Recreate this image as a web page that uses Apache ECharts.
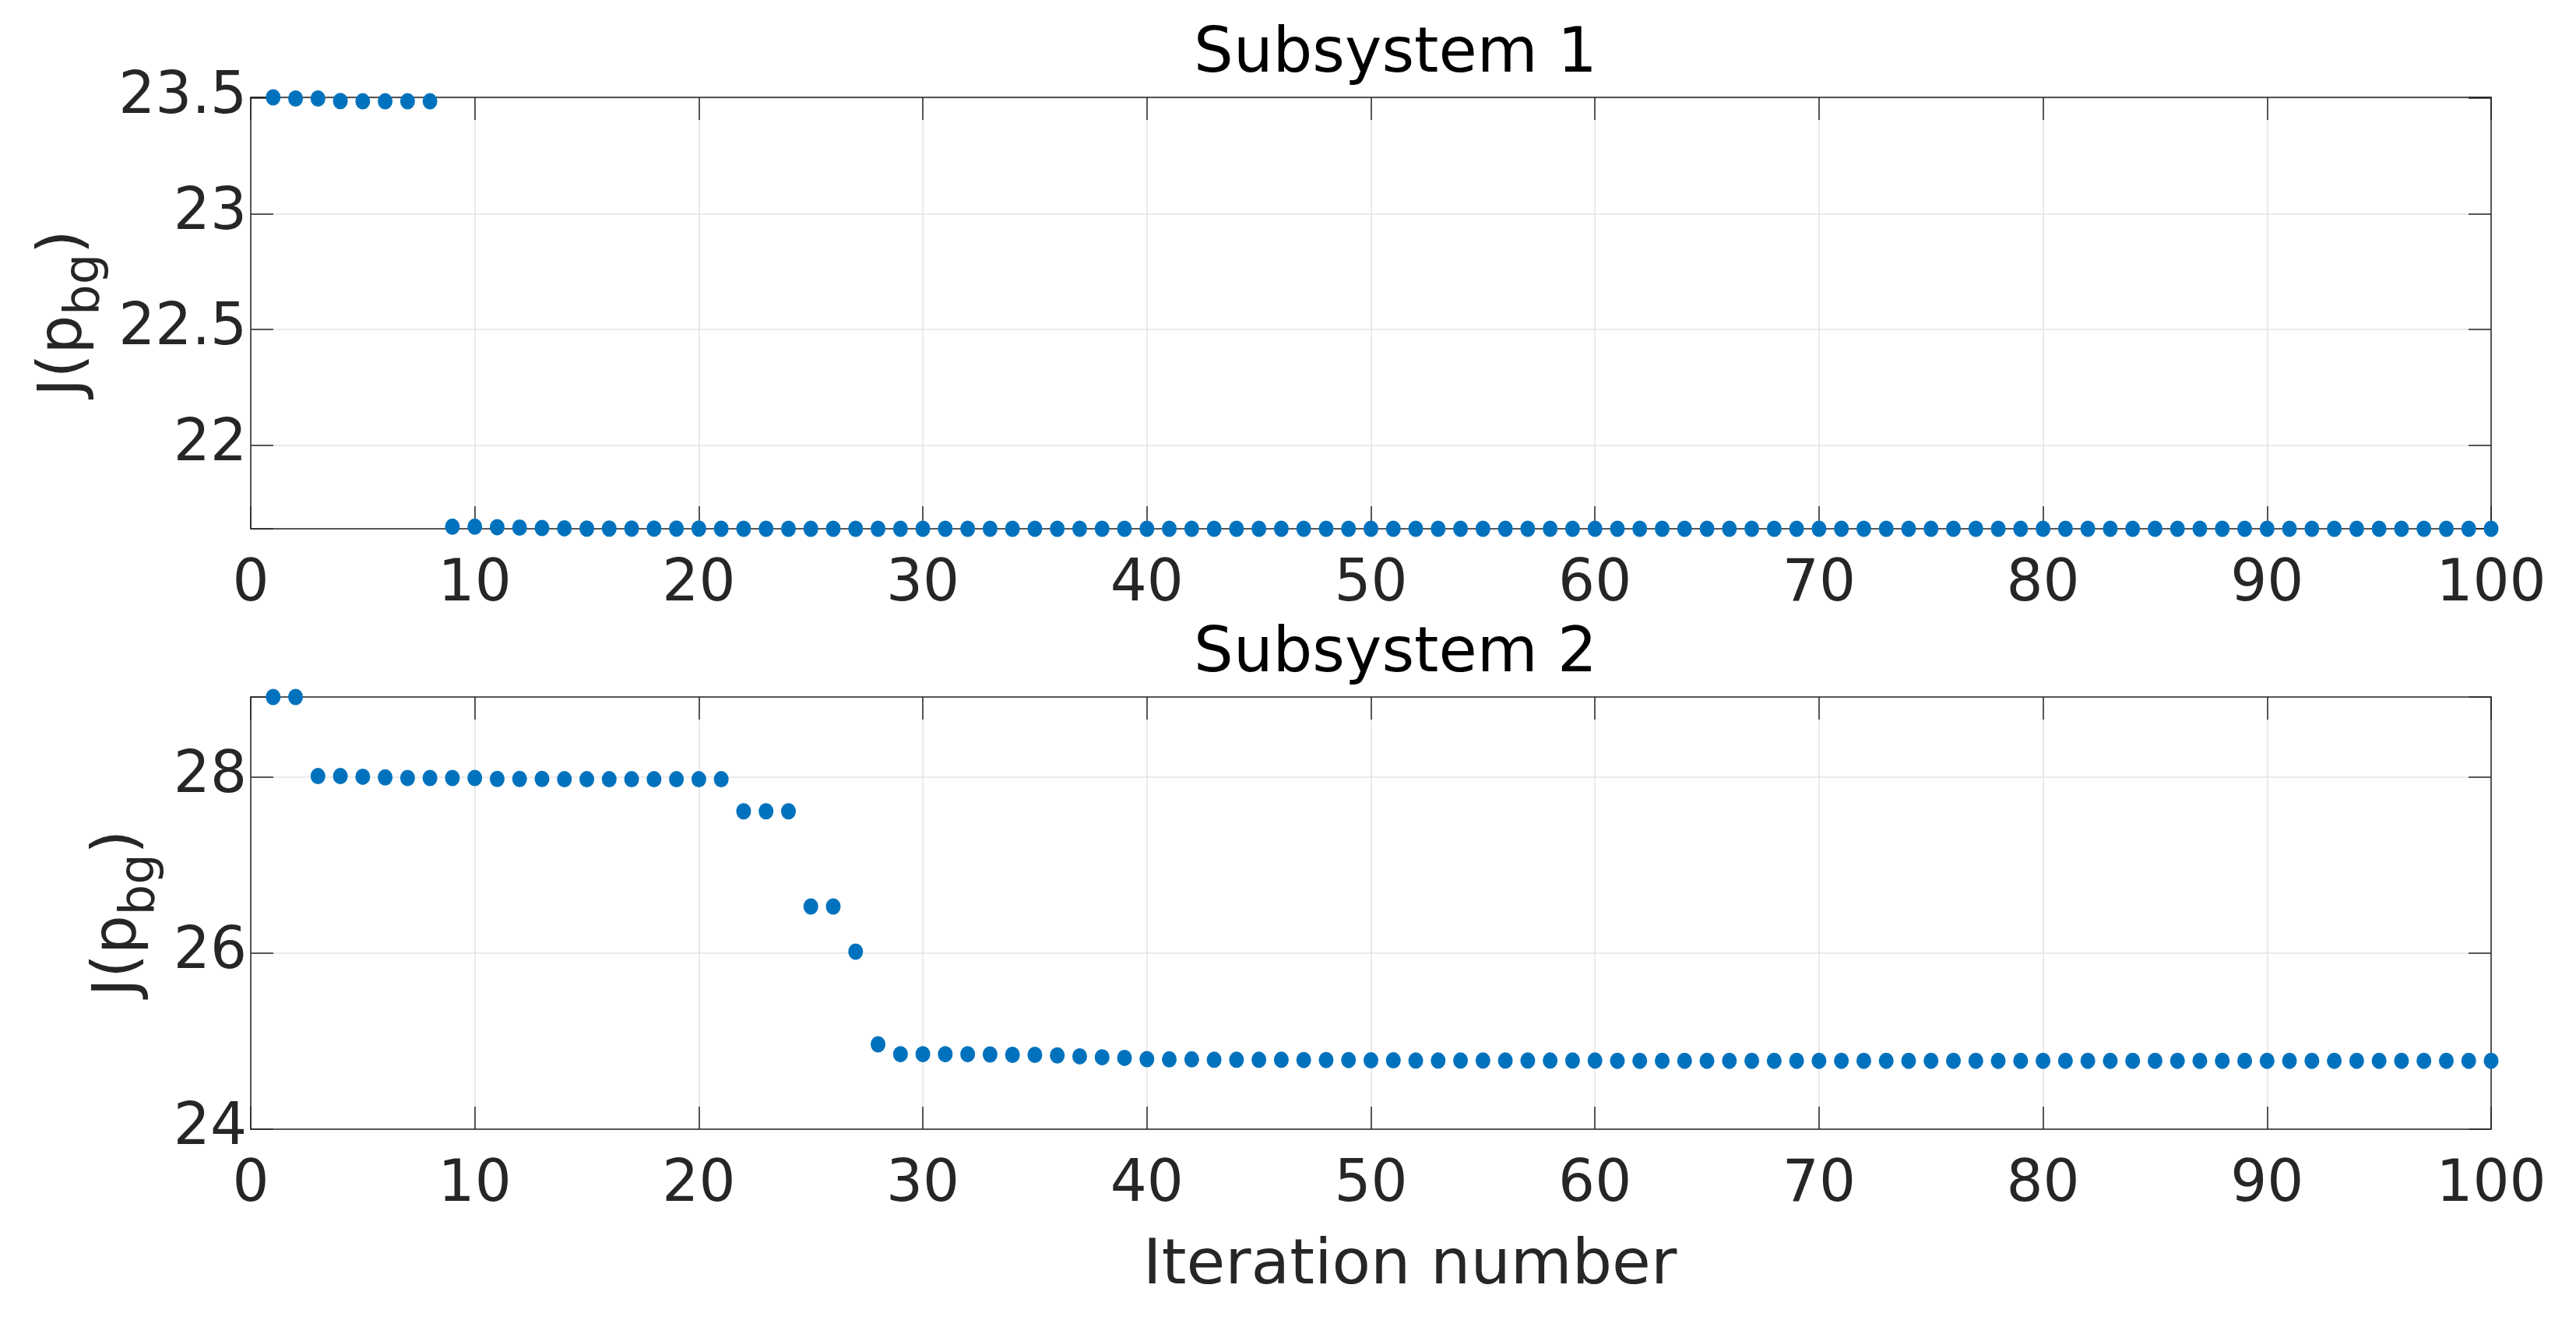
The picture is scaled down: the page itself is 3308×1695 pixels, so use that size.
<!DOCTYPE html>
<html>
<head>
<meta charset="utf-8">
<script src="https://cdn.jsdelivr.net/npm/echarts@6/dist/echarts.min.js"></script>
<style>
html,body{margin:0;padding:0;background:#fff;}
#main{width:3308px;height:1695px;}
</style>
</head>
<body>
<div id="main"></div>
<script>
// ---- data ----
var titles = ['Subsystem 1', 'Subsystem 2'];
var xLabel = 'Iteration number';
var xTicks = [0, 10, 20, 30, 40, 50, 60, 70, 80, 90, 100];
var yTicks1 = [22, 22.5, 23, 23.5];
var yTicks2 = [24, 26, 28];

var iterations = [];
for (var i = 1; i <= 100; i++) iterations.push(i);

var sub1 = [
  23.503, 23.498, 23.498, 23.487, 23.486, 23.486, 23.486, 23.486,
  21.647, 21.647, 21.645, 21.643, 21.641, 21.640, 21.639, 21.639, 21.639, 21.639, 21.639, 21.639,
  21.638, 21.638, 21.638, 21.638, 21.638, 21.638, 21.638, 21.638, 21.638, 21.638,
  21.638, 21.638, 21.638, 21.638, 21.638, 21.638, 21.638, 21.638, 21.638, 21.638,
  21.638, 21.638, 21.638, 21.638, 21.638, 21.638, 21.638, 21.638, 21.638, 21.638,
  21.638, 21.638, 21.638, 21.638, 21.638, 21.638, 21.638, 21.638, 21.638, 21.638,
  21.638, 21.638, 21.638, 21.638, 21.638, 21.638, 21.638, 21.638, 21.638, 21.638,
  21.638, 21.638, 21.638, 21.638, 21.638, 21.638, 21.638, 21.638, 21.638, 21.638,
  21.638, 21.638, 21.638, 21.638, 21.638, 21.638, 21.638, 21.638, 21.638, 21.638,
  21.638, 21.638, 21.638, 21.638, 21.638, 21.638, 21.638, 21.638, 21.638, 21.638
];

var sub2 = [
  28.91, 28.91, 28.011, 28.011, 28.004, 27.997, 27.990, 27.990, 27.990, 27.990,
  27.979, 27.979, 27.979, 27.976, 27.976, 27.976, 27.976, 27.976, 27.976, 27.976,
  27.976, 27.612, 27.612, 27.612, 26.53, 26.53, 26.017, 24.964, 24.852, 24.852,
  24.852, 24.852, 24.849, 24.845, 24.845, 24.838, 24.828, 24.817, 24.810, 24.796,
  24.793, 24.793, 24.789, 24.789, 24.789, 24.789, 24.786, 24.786, 24.786, 24.782,
  24.782, 24.780, 24.780, 24.780, 24.780, 24.780, 24.780, 24.780, 24.780, 24.780,
  24.777, 24.777, 24.777, 24.777, 24.777, 24.777, 24.777, 24.777, 24.777, 24.777,
  24.777, 24.777, 24.777, 24.777, 24.777, 24.777, 24.777, 24.777, 24.777, 24.777,
  24.777, 24.777, 24.777, 24.777, 24.777, 24.777, 24.777, 24.777, 24.777, 24.777,
  24.777, 24.777, 24.777, 24.777, 24.777, 24.777, 24.777, 24.777, 24.777, 24.777
];

// ---- chart ----
var FONT = 'DejaVu Sans';
var TXT = '#262626';
var GRIDC = '#e3e3e3';
var MARK = '#0072BD';

function pairs(ys) {
  return iterations.map(function (x, k) { return [x, ys[k]]; });
}
function tickFormatter(list) {
  return function (v) {
    for (var k = 0; k < list.length; k++) {
      if (Math.abs(list[k] - v) < 1e-6) return String(list[k]);
    }
    return '';
  };
}

var yName = '{a|J(p}{b|bg}{a|)}';
var yNameRich = {
  a: { fontFamily: FONT, fontSize: 79, color: TXT },
  b: { fontFamily: FONT, fontSize: 62, color: TXT, padding: [54, 0, 0, 0] }
};

function xAxisPair(gi, withName) {
  var common = {
    type: 'value', gridIndex: gi, min: 0, max: 100, interval: 10,
    axisLine: { show: true, onZero: false, lineStyle: { color: TXT, width: 1.5 } },
    axisTick: { show: true, inside: true, length: 29, lineStyle: { color: TXT, width: 1.5 } },
    splitLine: { show: true, lineStyle: { color: GRIDC, width: 1.5 } }
  };
  var bottom = Object.assign({}, common, {
    position: 'bottom',
    axisLabel: { show: true, fontFamily: FONT, fontSize: 74, color: TXT, margin: 36,
                 formatter: tickFormatter(xTicks) }
  });
  if (withName) {
    bottom.name = xLabel;
    bottom.nameLocation = 'middle';
    bottom.nameGap = 136;
    bottom.nameTextStyle = { fontFamily: FONT, fontSize: 81, color: TXT, padding: [0, 0, 0, 100] };
  }
  var top = Object.assign({}, common, {
    position: 'top', axisLabel: { show: false }, splitLine: { show: false }
  });
  return [bottom, top];
}

function yAxisPair(gi, mn, mx, ticks, interval, gap) {
  var common = {
    type: 'value', gridIndex: gi, min: mn, max: mx,
    axisLine: { show: true, onZero: false, lineStyle: { color: TXT, width: 1.5 } },
    axisTick: { show: true, inside: true, length: 29, lineStyle: { color: TXT, width: 1.5 } },
    splitLine: { show: true, lineStyle: { color: GRIDC, width: 1.5 } }
  };
  if (interval) common.interval = interval; else common.splitNumber = 4;
  var left = Object.assign({}, common, {
    position: 'left',
    axisLabel: { show: true, fontFamily: FONT, fontSize: 74, color: TXT, margin: 5,
                 formatter: tickFormatter(ticks) },
    name: yName, nameLocation: 'middle', nameRotate: 90, nameGap: gap,
    nameTextStyle: { rich: yNameRich, fontFamily: FONT, fontSize: 79, color: TXT }
  });
  var right = Object.assign({}, common, {
    position: 'right', axisLabel: { show: false }, splitLine: { show: false }
  });
  return [left, right];
}

var xa = xAxisPair(0, false).concat(xAxisPair(1, true));
var ya = yAxisPair(0, 21.638, 23.503, yTicks1, null, 168)
  .concat(yAxisPair(1, 24, 28.91, yTicks2, 2, 100));

var option = {
  backgroundColor: '#ffffff',
  animation: false,
  title: [
    { text: titles[0], left: 1787, top: 26, textAlign: 'center',
      textStyle: { fontFamily: FONT, fontSize: 80, fontWeight: 'normal', color: '#000' } },
    { text: titles[1], left: 1787, top: 796, textAlign: 'center',
      textStyle: { fontFamily: FONT, fontSize: 80, fontWeight: 'normal', color: '#000' } }
  ],
  grid: [
    { left: 322, top: 125, width: 2877, height: 554, containLabel: false },
    { left: 322, top: 895, width: 2877, height: 555, containLabel: false }
  ],
  xAxis: xa,
  yAxis: ya,
  series: [
    { type: 'scatter', xAxisIndex: 0, yAxisIndex: 0, data: pairs(sub1),
      symbol: 'circle', symbolSize: [19, 21], itemStyle: { color: MARK, opacity: 1 }, clip: false },
    { type: 'scatter', xAxisIndex: 2, yAxisIndex: 2, data: pairs(sub2),
      symbol: 'circle', symbolSize: [19, 21], itemStyle: { color: MARK, opacity: 1 }, clip: false }
  ]
};

var chart = echarts.init(document.getElementById('main'), null, { renderer: 'canvas' });
chart.setOption(option);
</script>
</body>
</html>
